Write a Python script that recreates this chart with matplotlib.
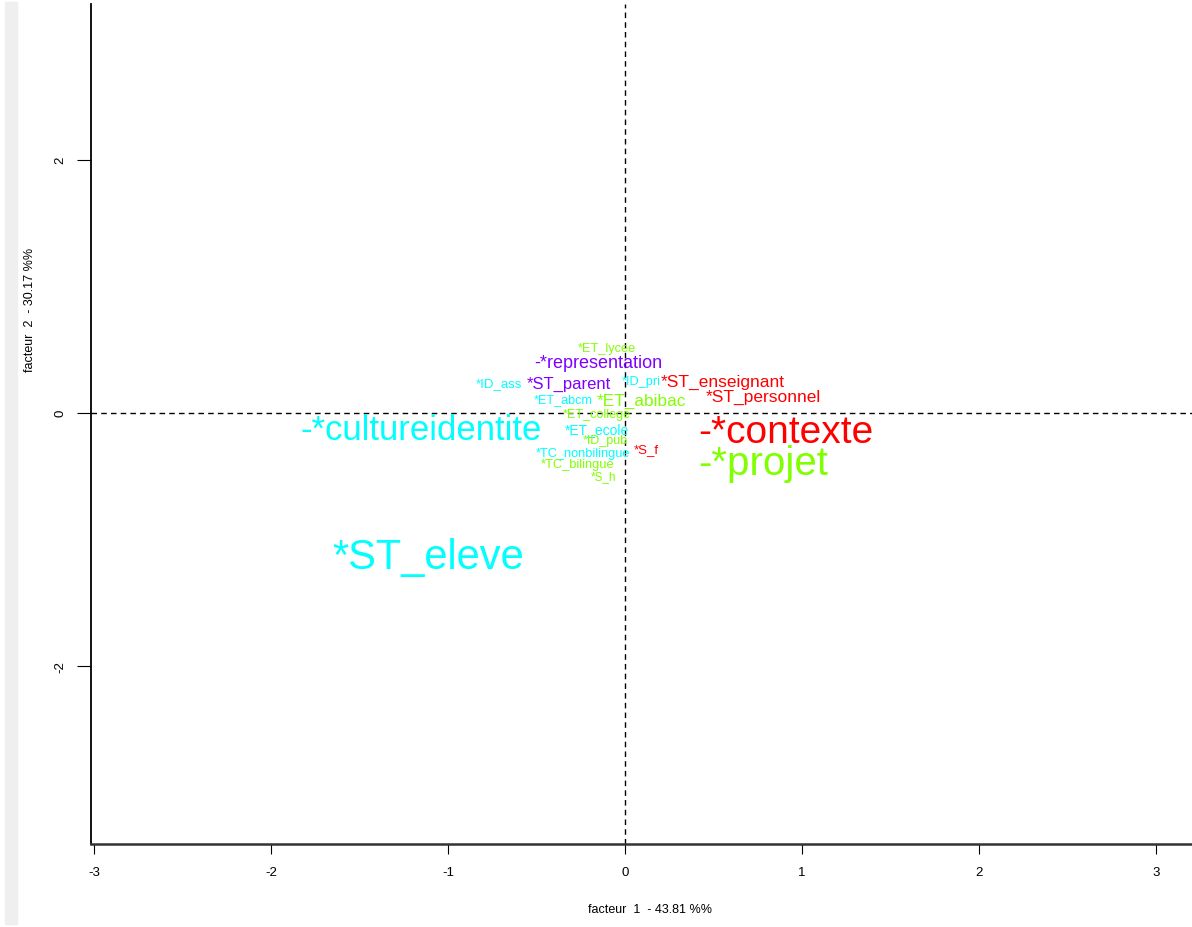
import matplotlib
matplotlib.use("Agg")
import matplotlib.pyplot as plt
from matplotlib.patches import Rectangle

plt.rcParams['font.family'] = ['Liberation Sans', 'DejaVu Sans']

# modalities, coordinates on the two factors, colour group and text size
labels = ['*ST_eleve', '-*cultureidentite', '-*contexte', '-*projet',
          '*ST_enseignant', '*ST_personnel', '-*representation', '*ET_lycee',
          '*ST_parent', '*ID_ass', '*ID_pri', '*ET_abcm', '*ET_abibac',
          '*ET_college', '*ET_ecole', '*ID_pub', '*S_f', '*TC_nonbilingue',
          '*TC_bilingue', '*S_h']
fact1 = [-1.11, -1.15, 0.91, 0.78, 0.55, 0.78, -0.15, -0.10, -0.32, -0.71,
         0.09, -0.35, 0.09, -0.16, -0.16, -0.11, 0.12, -0.24, -0.27, -0.12]
fact2 = [-1.14, -0.13, -0.15, -0.40, 0.25, 0.13, 0.40, 0.51, 0.23, 0.23,
         0.25, 0.11, 0.10, -0.01, -0.13, -0.22, -0.29, -0.32, -0.41, -0.50]
groups = [2, 2, 0, 1, 0, 0, 3, 1, 3, 2, 2, 2, 1, 1, 2, 1, 0, 2, 1, 1]
sizes = [30, 25, 28, 29, 12.5, 12.5, 13, 9.2, 12, 9.5, 9.2, 9.1, 12.4,
         9.1, 10, 9, 9.5, 9.2, 9.3, 8.5]
palette = ['#FF0000', '#80FF00', '#00FFFF', '#8000FF']

xticks = [-3, -2, -1, 0, 1, 2, 3]
yticks = [-2, 0, 2]

fig = plt.figure(figsize=(11.92, 9.28), dpi=100)
fig.patches.append(Rectangle((5 / 1192, 3 / 928), 12 / 1192, 922 / 928,
                             transform=fig.transFigure, color='#efefef', zorder=0))

ax = fig.add_axes([91 / 1192, 83 / 928, 1101 / 1192, 840 / 928])
ax.set_xlim(-3.017, 3.203)
ax.set_ylim(-3.41, 3.23)

ax.axhline(0, color='black', linestyle=(0, (4, 3)), linewidth=1)
ax.axvline(0, color='black', linestyle=(0, (4, 3)), linewidth=1)

for lab, x, y, g, s in zip(labels, fact1, fact2, groups, sizes):
    ax.text(x, y, lab, color=palette[g], fontsize=s, ha='center', va='center')

ax.spines['top'].set_visible(False)
ax.spines['right'].set_visible(False)
ax.spines['left'].set_linewidth(1.3)
ax.spines['bottom'].set_linewidth(1.8)
ax.spines['bottom'].set_color('#333333')

ax.set_xticks(xticks)
ax.set_xticklabels([str(t) for t in xticks], fontsize=9.5)
ax.set_yticks(yticks)
ax.set_yticklabels([str(t) for t in yticks], fontsize=9.5, rotation=90, va='center')
ax.tick_params(axis='x', length=7, pad=9)
ax.tick_params(axis='y', length=10, pad=8)

fig.text(650 / 1192, 1 - 910 / 928, 'facteur  1  - 43.81 %%', fontsize=9,
         ha='center', va='center')
fig.text(30 / 1192, 1 - 310 / 928, 'facteur  2  - 30.17 %%', fontsize=9,
         ha='center', va='center', rotation=90)

fig.savefig('out.png', dpi=100)
